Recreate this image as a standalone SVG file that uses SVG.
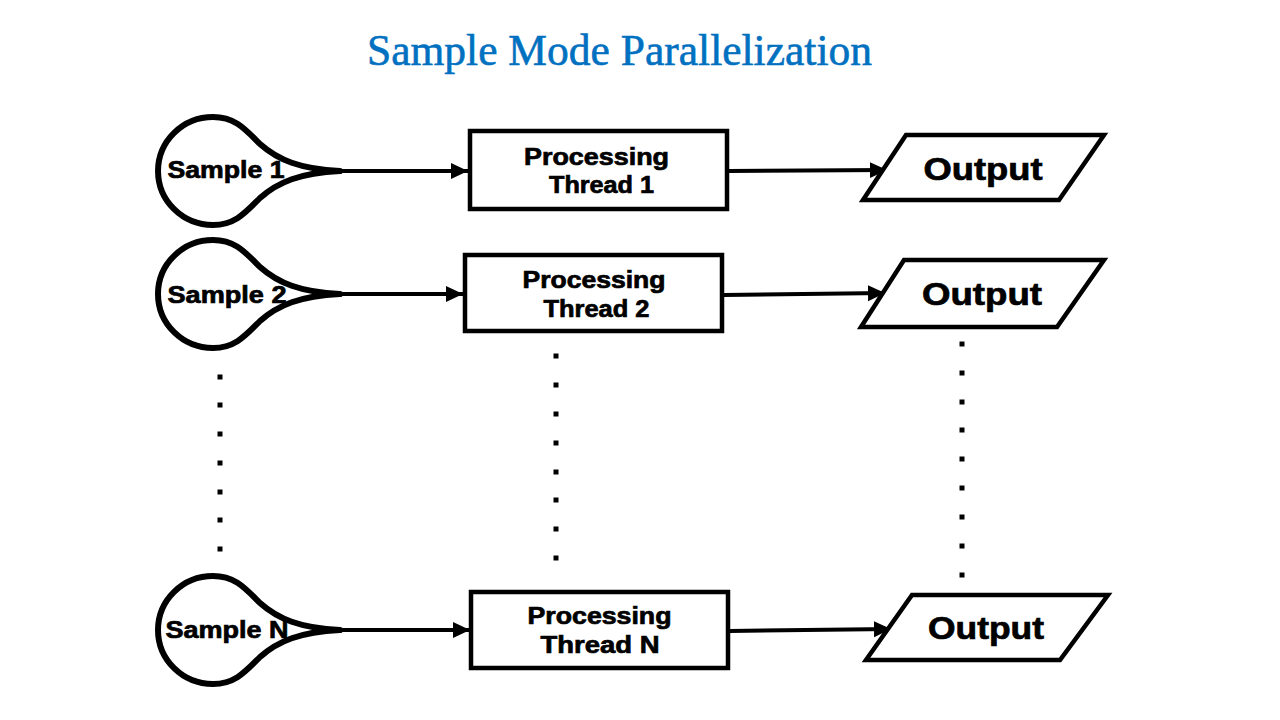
<svg xmlns="http://www.w3.org/2000/svg" width="1280" height="720" viewBox="0 0 1280 720">
<style>
.tear{fill:#fff;stroke:#000;stroke-width:6;stroke-linejoin:round}
.box{fill:#fff;stroke:#000;stroke-width:4.5}
.par{fill:#fff;stroke:#000;stroke-width:4.5;stroke-linejoin:miter}
.lbl{font-family:"Liberation Sans",Arial,sans-serif;font-weight:bold;fill:#000;stroke:#000;stroke-width:0.7;text-anchor:middle}
.s{font-size:23px}
.p{font-size:23.5px}
.o{font-size:31px}
.conn{stroke:#000;stroke-width:4;fill:none;marker-end:url(#ah)}
.dot{fill:#000}
.title{font-family:"Liberation Serif","Times New Roman",serif;font-size:44px;fill:#0070C0;stroke:#0070C0;stroke-width:0.6}
</style>
<defs>
<marker id="ah" markerUnits="userSpaceOnUse" markerWidth="20" markerHeight="18" refX="17" refY="8" orient="auto">
<path d="M0,0 L17,8 L0,16 Z" fill="#000"/>
</marker>
</defs>
<rect width="1280" height="720" fill="#fff"/>
<text class="title" x="367" y="65" textLength="505" lengthAdjust="spacingAndGlyphs">Sample Mode Parallelization</text>

<g id="connectors">
<path class="conn" d="M330,171 L468,171"/>
<path class="conn" d="M330,294 L463,294"/>
<path class="conn" d="M330,630 L470,630"/>
<path class="conn" d="M729,171 L887,170"/>
<path class="conn" d="M724,295 L885,293"/>
<path class="conn" d="M730,631 L891,629"/>
</g>

<g id="sample1">
<path class="tear" d="M340,171 C300,169 278,160 260,144 C245,129 235,117 213,117 A55 54 0 0 0 213,225 C235,225 245,213 260,198 C278,182 300,173 340,171 Z"/>
<text class="lbl s" x="226" y="178" textLength="117" lengthAdjust="spacingAndGlyphs">Sample 1</text>
</g>
<g id="sample2">
<path class="tear" d="M340,294 C300,292 278,283 260,267 C245,252 235,240 213,240 A55 54 0 0 0 213,348 C235,348 245,336 260,321 C278,305 300,296 340,294 Z"/>
<text class="lbl s" x="227" y="303" textLength="119" lengthAdjust="spacingAndGlyphs">Sample 2</text>
</g>
<g id="sampleN">
<path class="tear" d="M340,630 C300,628 278,619 260,603 C245,588 235,576 213,576 A55 54 0 0 0 213,684 C235,684 245,672 260,657 C278,641 300,632 340,630 Z"/>
<text class="lbl s" x="227" y="638" textLength="123" lengthAdjust="spacingAndGlyphs">Sample N</text>
</g>

<g id="thread1">
<rect class="box" x="470" y="131" width="257" height="78"/>
<text class="lbl p" x="596.5" y="165" textLength="145" lengthAdjust="spacingAndGlyphs">Processing</text>
<text class="lbl p" x="601.5" y="193" textLength="105" lengthAdjust="spacingAndGlyphs">Thread 1</text>
</g>
<g id="thread2">
<rect class="box" x="465" y="255" width="257" height="76"/>
<text class="lbl p" x="594" y="288" textLength="143" lengthAdjust="spacingAndGlyphs">Processing</text>
<text class="lbl p" x="596.5" y="317" textLength="106" lengthAdjust="spacingAndGlyphs">Thread 2</text>
</g>
<g id="threadN">
<rect class="box" x="471" y="592" width="257" height="76"/>
<text class="lbl p" x="599.5" y="624" textLength="144" lengthAdjust="spacingAndGlyphs">Processing</text>
<text class="lbl p" x="600" y="653" textLength="119" lengthAdjust="spacingAndGlyphs">Thread N</text>
</g>

<g id="output1">
<polygon class="par" points="906,135 1104,135 1059,200 863,200"/>
<text class="lbl o" x="983" y="180" textLength="119" lengthAdjust="spacingAndGlyphs">Output</text>
</g>
<g id="output2">
<polygon class="par" points="904,260 1104,260 1057,327 861,327"/>
<text class="lbl o" x="982" y="305" textLength="120" lengthAdjust="spacingAndGlyphs">Output</text>
</g>
<g id="outputN">
<polygon class="par" points="912,595 1108,595 1060,660 866,660"/>
<text class="lbl o" x="986" y="639" textLength="116" lengthAdjust="spacingAndGlyphs">Output</text>
</g>

<g id="dots">
<rect class="dot" x="217.5" y="374.5" width="5" height="5"/>
<rect class="dot" x="217.5" y="402.5" width="5" height="5"/>
<rect class="dot" x="217.5" y="431.5" width="5" height="5"/>
<rect class="dot" x="217.5" y="460.5" width="5" height="5"/>
<rect class="dot" x="217.5" y="489.5" width="5" height="5"/>
<rect class="dot" x="217.5" y="517.5" width="5" height="5"/>
<rect class="dot" x="217.5" y="546.5" width="5" height="5"/>
<rect class="dot" x="553.5" y="353.5" width="5" height="5"/>
<rect class="dot" x="553.5" y="382.5" width="5" height="5"/>
<rect class="dot" x="553.5" y="411.5" width="5" height="5"/>
<rect class="dot" x="553.5" y="440.5" width="5" height="5"/>
<rect class="dot" x="553.5" y="469.5" width="5" height="5"/>
<rect class="dot" x="553.5" y="497.5" width="5" height="5"/>
<rect class="dot" x="553.5" y="526.5" width="5" height="5"/>
<rect class="dot" x="553.5" y="555.5" width="5" height="5"/>
<rect class="dot" x="959.5" y="341.5" width="5" height="5"/>
<rect class="dot" x="959.5" y="370.5" width="5" height="5"/>
<rect class="dot" x="959.5" y="399.5" width="5" height="5"/>
<rect class="dot" x="959.5" y="427.5" width="5" height="5"/>
<rect class="dot" x="959.5" y="456.5" width="5" height="5"/>
<rect class="dot" x="959.5" y="485.5" width="5" height="5"/>
<rect class="dot" x="959.5" y="514.5" width="5" height="5"/>
<rect class="dot" x="959.5" y="543.5" width="5" height="5"/>
<rect class="dot" x="959.5" y="572.5" width="5" height="5"/>
</g>
</svg>
